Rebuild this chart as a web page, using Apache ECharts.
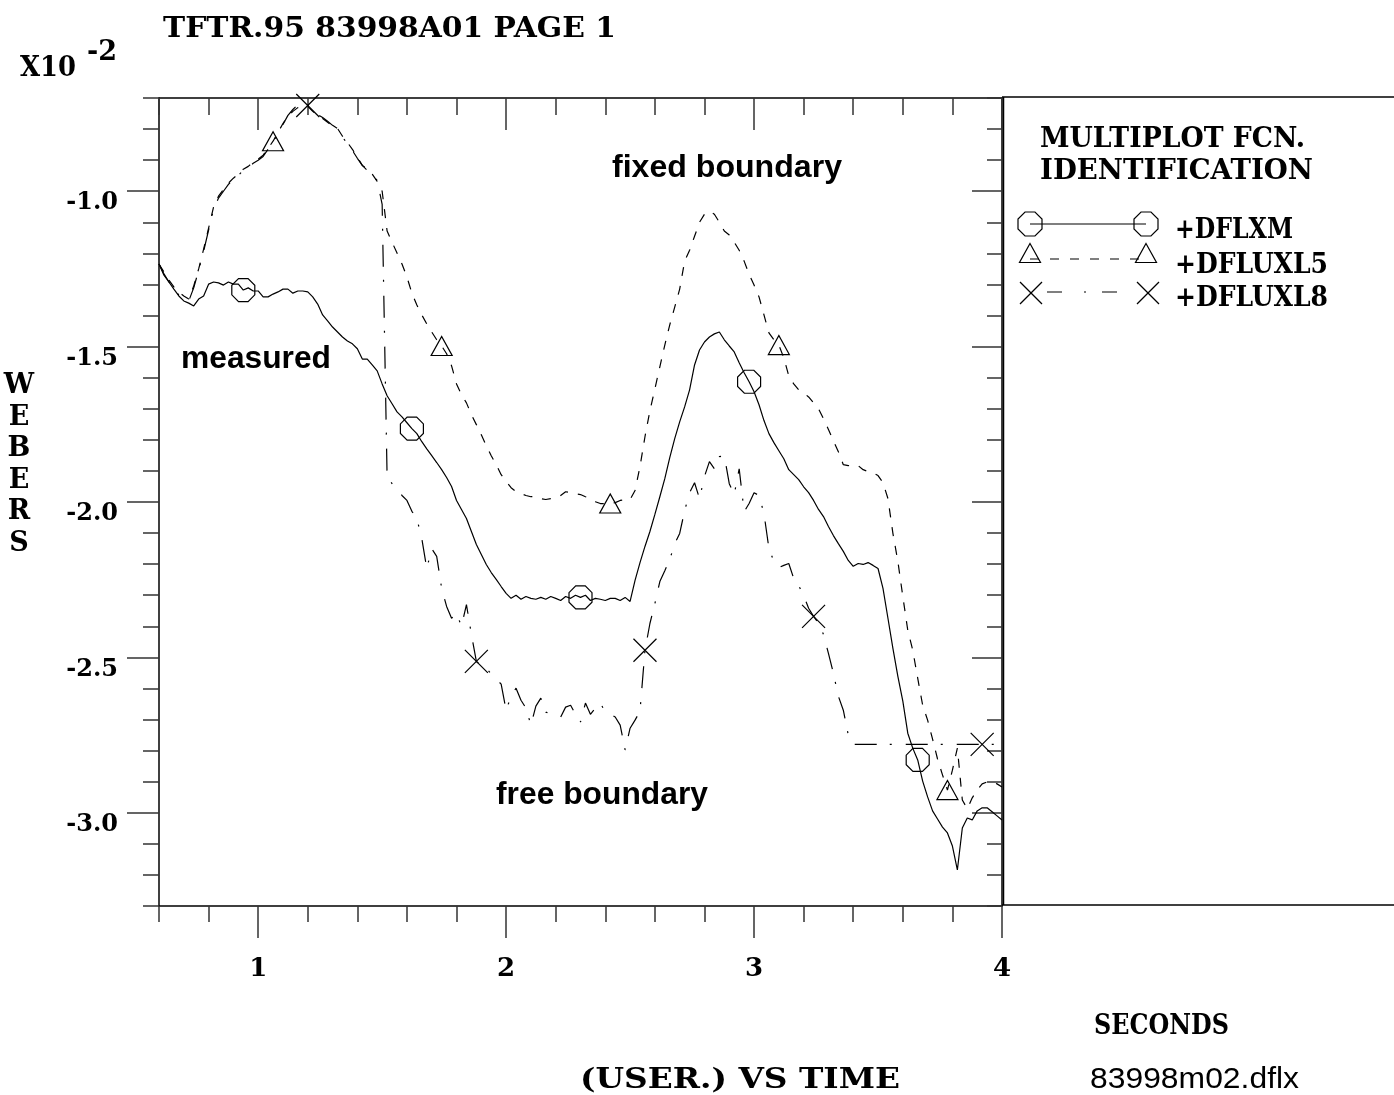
<!DOCTYPE html>
<html>
<head>
<meta charset="utf-8">
<title>83998 flux loops</title>
<script src="https://cdn.jsdelivr.net/npm/echarts@6/dist/echarts.min.js"></script>
<style>
  html, body { margin: 0; padding: 0; background: #fff; }
  #chart { width: 1394px; height: 1095px; }
</style>
</head>
<body>
<div id="chart"></div>
<script>
// Time base of the record: one sample every 20 ms from 0.6 s
const T_START = 0.6;
const T_STEP = 0.02;

// Flux signals in units of 1e-2 Wb, one value per sample
const dflxm = [
  -1.234, -1.270, -1.292, -1.315, -1.337, -1.353, -1.360, -1.369, -1.347, -1.337,
  -1.299, -1.292, -1.295, -1.302, -1.292, -1.299, -1.299, -1.318, -1.311, -1.321,
  -1.321, -1.340, -1.340, -1.331, -1.324, -1.315, -1.315, -1.328, -1.321, -1.321,
  -1.324, -1.340, -1.363, -1.398, -1.417, -1.437, -1.453, -1.469, -1.482, -1.491,
  -1.507, -1.540, -1.540, -1.559, -1.578, -1.620, -1.658, -1.684, -1.710, -1.726,
  -1.745, -1.764, -1.780, -1.806, -1.829, -1.851, -1.873, -1.896, -1.921, -1.950,
  -1.995, -2.024, -2.053, -2.095, -2.137, -2.169, -2.201, -2.227, -2.249, -2.272,
  -2.294, -2.310, -2.300, -2.313, -2.304, -2.310, -2.313, -2.307, -2.313, -2.304,
  -2.310, -2.317, -2.304, -2.310, -2.300, -2.307, -2.300, -2.317, -2.310, -2.313,
  -2.317, -2.310, -2.310, -2.317, -2.307, -2.320, -2.252, -2.195, -2.143, -2.095,
  -2.040, -1.983, -1.925, -1.857, -1.796, -1.742, -1.694, -1.639, -1.559, -1.511,
  -1.485, -1.469, -1.459, -1.453, -1.478, -1.498, -1.517, -1.552, -1.584, -1.613,
  -1.645, -1.687, -1.738, -1.780, -1.809, -1.835, -1.861, -1.896, -1.912, -1.928,
  -1.951, -1.970, -1.995, -2.024, -2.047, -2.079, -2.108, -2.134, -2.159, -2.188,
  -2.207, -2.198, -2.201, -2.195, -2.204, -2.214, -2.278, -2.374, -2.471, -2.561,
  -2.641, -2.744, -2.792, -2.830, -2.898, -2.949, -2.994, -3.020, -3.046, -3.065,
  -3.107, -3.184, -3.049, -3.017, -3.023, -2.994, -2.984, -2.984, -2.997, -3.010, -3.023
];

const dfluxl5 = [
  -1.234, -1.260, -1.286, -1.308, -1.324, -1.337, -1.347, -1.305, -1.250, -1.186,
  -1.119, -1.051, -1.016, -0.994, -0.974, -0.958, -0.945, -0.929, -0.920, -0.907,
  -0.897, -0.884, -0.862, -0.839, -0.811, -0.782, -0.759, -0.743, -0.731, -0.724,
  -0.727, -0.743, -0.756, -0.766, -0.778, -0.791, -0.798, -0.823, -0.843, -0.865,
  -0.891, -0.917, -0.929, -0.945, -0.968, -1.000, -1.128, -1.164, -1.199, -1.234,
  -1.276, -1.328, -1.366, -1.398, -1.427, -1.453, -1.478, -1.498, -1.523, -1.562,
  -1.620, -1.655, -1.681, -1.719, -1.751, -1.784, -1.819, -1.851, -1.880, -1.912,
  -1.934, -1.954, -1.967, -1.973, -1.979, -1.983, -1.983, -1.989, -1.992, -1.989,
  -1.986, -1.979, -1.967, -1.970, -1.973, -1.976, -1.983, -1.989, -1.999, -2.005,
  -2.005, -2.005, -2.002, -1.995, -1.992, -1.992, -1.963, -1.886, -1.790, -1.706,
  -1.636, -1.565, -1.495, -1.430, -1.373, -1.315, -1.225, -1.190, -1.145, -1.100,
  -1.074, -1.064, -1.074, -1.100, -1.128, -1.141, -1.164, -1.190, -1.225, -1.267,
  -1.302, -1.340, -1.398, -1.456, -1.478, -1.495, -1.536, -1.594, -1.620, -1.639,
  -1.649, -1.662, -1.681, -1.700, -1.732, -1.767, -1.803, -1.838, -1.880, -1.883,
  -1.880, -1.883, -1.896, -1.902, -1.906, -1.915, -1.938, -1.989, -2.101, -2.191,
  -2.304, -2.413, -2.477, -2.567, -2.654, -2.702, -2.763, -2.827, -2.878, -2.927,
  -2.863, -2.792, -2.959, -2.987, -2.952, -2.927, -2.907, -2.901, -2.901, -2.907, -2.917
];

const dfluxl8 = [
  -1.234, -1.266, -1.292, -1.315, -1.334, -1.344, -1.353, -1.311, -1.254, -1.193,
  -1.125, -1.058, -1.022, -1.000, -0.978, -0.961, -0.949, -0.933, -0.923, -0.910,
  -0.900, -0.888, -0.865, -0.843, -0.814, -0.785, -0.756, -0.737, -0.721, -0.717,
  -0.724, -0.737, -0.753, -0.763, -0.775, -0.788, -0.798, -0.827, -0.846, -0.869,
  -0.894, -0.917, -0.933, -0.949, -0.965, -1.042, -1.918, -1.941, -1.957, -1.979,
  -1.995, -2.030, -2.053, -2.118, -2.214, -2.150, -2.175, -2.278, -2.336, -2.374,
  -2.358, -2.400, -2.330, -2.426, -2.513, -2.525, -2.535, -2.554, -2.570, -2.586,
  -2.670, -2.625, -2.599, -2.638, -2.663, -2.718, -2.657, -2.631, -2.676, -2.683,
  -2.686, -2.692, -2.660, -2.654, -2.683, -2.708, -2.647, -2.683, -2.663, -2.647,
  -2.676, -2.683, -2.692, -2.718, -2.798, -2.728, -2.702, -2.673, -2.477, -2.391,
  -2.327, -2.256, -2.221, -2.185, -2.134, -2.101, -2.028, -1.970, -1.938, -1.989,
  -1.918, -1.870, -1.893, -1.854, -1.851, -1.941, -1.976, -1.893, -2.031, -2.005,
  -1.970, -1.979, -2.037, -2.150, -2.191, -2.211, -2.204, -2.198, -2.246, -2.269,
  -2.301, -2.342, -2.368, -2.390, -2.426, -2.487, -2.551, -2.625, -2.670, -2.750,
  -2.780, -2.780, -2.780, -2.780, -2.780, -2.780, -2.780, -2.780, -2.780, -2.780,
  -2.780, -2.780, -2.780, -2.780, -2.780, -2.780, -2.780, -2.780, -2.780, -2.780,
  -2.780, -2.780, -2.780, -2.780, -2.780, -2.780, -2.780, -2.780, -2.780, -2.780, -2.780
];

// Axis ticks
const xMajorTicks = [1, 2, 3, 4];
const xMinorTicks = [0.6, 0.8, 1.0, 1.2, 1.4, 1.6, 1.8, 2.0, 2.2, 2.4, 2.6, 2.8, 3.0, 3.2, 3.4, 3.6, 3.8, 4.0];
const yMajorTicks = [-3.0, -2.5, -2.0, -1.5, -1.0];
const yMinorTicks = [-3.3, -3.2, -3.1, -3.0, -2.9, -2.8, -2.7, -2.6, -2.5, -2.4, -2.3, -2.2, -2.1,
  -2.0, -1.9, -1.8, -1.7, -1.6, -1.5, -1.4, -1.3, -1.2, -1.1, -1.0, -0.9, -0.8, -0.7];

const seriesNames = ['+DFLXM', '+DFLUXL5', '+DFLUXL8'];

// ---------------------------------------------------------------------------
const time = dflxm.map((_, i) => +(T_START + i * T_STEP).toFixed(2));
const MARK_EVERY = 34;   // plot symbol spacing, in samples

const SERIF = '"DejaVu Serif", "Liberation Serif", serif';
const SANS = '"Liberation Sans", Arial, sans-serif';
const INK = '#000';
const TICK = '#333';

const OCTAGON = 'path://M29.3,0 L70.7,0 L100,29.3 L100,70.7 L70.7,100 L29.3,100 L0,70.7 L0,29.3 Z';
const CROSS = 'path://M0,0 L100,100 M100,0 L0,100';

const DASH_L5 = [9, 10];
const DASH_L8 = [22, 13, 2, 14];

function trace(name, values, dash, symbol, size, firstMark) {
  return {
    name, type: 'line', xAxisIndex: 0, yAxisIndex: 0,
    data: values.map((v, i) => [time[i], v]),
    lineStyle: { color: INK, width: 1.2, type: dash },
    symbol,
    symbolSize: (val, p) =>
      (p.dataIndex >= firstMark && (p.dataIndex - firstMark) % MARK_EVERY === 0) ? size : 0,
    showSymbol: true, showAllSymbol: true,
    itemStyle: { color: 'rgba(0,0,0,0)', borderColor: INK, borderWidth: 1.2 },
    emphasis: { disabled: true },
    silent: true, z: 3
  };
}

function xAxisDef(position, ticks, len, inside, showLine, label) {
  return {
    type: 'value', min: 0.6, max: 4.0, position, gridIndex: 0,
    axisLine: { show: showLine, onZero: false, lineStyle: { color: INK, width: 1.5 } },
    axisTick: { show: true, customValues: ticks, length: len, inside, lineStyle: { color: TICK, width: 1.5 } },
    axisLabel: label || { show: false },
    splitLine: { show: false }
  };
}

function yAxisDef(position, ticks, len, inside, showLine, label) {
  return {
    type: 'value', min: -3.3, max: -0.7, position, gridIndex: 0,
    axisLine: { show: showLine, onZero: false, lineStyle: { color: INK, width: 1.5 } },
    axisTick: { show: true, customValues: ticks, length: len, inside, lineStyle: { color: TICK, width: 1.5 } },
    axisLabel: label || { show: false },
    splitLine: { show: false }
  };
}

// Text fitted to a given horizontal extent
const measureCtx = document.createElement('canvas').getContext('2d');
function fitText(str, left, right, cy, font) {
  measureCtx.font = font;
  const w = measureCtx.measureText(str).width;
  return {
    type: 'text', x: left, y: cy, scaleX: (right - left) / w, silent: true,
    style: { text: str, font, fill: INK, textAlign: 'left', textVerticalAlign: 'middle' }
  };
}

// Legend key shapes
function octagonShape(cx, cy, s) {
  const h = s / 2, c = s * 0.207;
  return {
    type: 'polygon', silent: true,
    shape: { points: [[cx - c, cy - h], [cx + c, cy - h], [cx + h, cy - c], [cx + h, cy + c],
                      [cx + c, cy + h], [cx - c, cy + h], [cx - h, cy + c], [cx - h, cy - c]] },
    style: { fill: 'none', stroke: INK, lineWidth: 1.2 }
  };
}
function triangleShape(cx, cy, w, h) {
  return {
    type: 'polygon', silent: true,
    shape: { points: [[cx, cy - h / 2], [cx + w / 2, cy + h / 2], [cx - w / 2, cy + h / 2]] },
    style: { fill: 'none', stroke: INK, lineWidth: 1.2 }
  };
}
function crossShape(cx, cy, s) {
  const h = s / 2;
  return [
    { type: 'line', silent: true, shape: { x1: cx - h, y1: cy - h, x2: cx + h, y2: cy + h }, style: { stroke: INK, lineWidth: 1.2 } },
    { type: 'line', silent: true, shape: { x1: cx + h, y1: cy - h, x2: cx - h, y2: cy + h }, style: { stroke: INK, lineWidth: 1.2 } }
  ];
}
function segment(x1, y1, x2, y2, dash, width) {
  return {
    type: 'line', silent: true,
    shape: { x1, y1, x2, y2 },
    style: { stroke: INK, lineWidth: width || 1.2, lineDash: dash || null }
  };
}

const F_TITLE = 'bold 27px ' + SERIF;
const F_KEY = 'bold 28px ' + SERIF;
const F_ENTRY = 'bold 27px ' + SERIF;
const F_NOTE = 'bold 32px ' + SANS;

const graphics = [
  fitText('TFTR.95 83998A01 PAGE 1', 163, 616, 30, F_TITLE),
  fitText('X10', 20, 76, 69, 'bold 28px ' + SERIF),
  fitText('-2', 87, 117, 53, 'bold 27px ' + SERIF),
  {
    type: 'text', x: 19, y: 465, silent: true,
    style: { text: 'W\nE\nB\nE\nR\nS', font: 'bold 27px ' + SERIF, fill: INK,
             textAlign: 'center', textVerticalAlign: 'middle', lineHeight: 31.5 }
  },
  fitText('fixed boundary', 612, 842, 168, F_NOTE),
  fitText('measured', 181, 331, 359, F_NOTE),
  fitText('free boundary', 496, 708, 795, F_NOTE),
  fitText('SECONDS', 1094, 1229, 1027, 'bold 27px ' + SERIF),
  fitText('(USER.) VS TIME', 580, 900, 1081, 'bold 28px ' + SERIF),
  fitText('83998m02.dflx', 1090, 1299, 1080, '30px ' + SANS),

  // identification box
  segment(1002, 97, 1394, 97, null, 1.5),
  segment(1002, 905, 1394, 905, null, 1.5),
  segment(1003.5, 97, 1003.5, 905, null, 1.5),
  fitText('MULTIPLOT FCN.', 1040, 1305, 140, F_KEY),
  fitText('IDENTIFICATION', 1040, 1313, 172, F_KEY),

  segment(1030, 224, 1146, 224),
  octagonShape(1030, 224, 24),
  octagonShape(1146, 224, 24),
  fitText(seriesNames[0], 1175, 1293, 231, F_ENTRY),

  segment(1030, 259, 1146, 259, [9, 11]),
  triangleShape(1030, 253, 21, 19),
  triangleShape(1146, 253, 21, 19),
  fitText(seriesNames[1], 1175, 1328, 266, F_ENTRY),

  segment(1047, 292, 1137, 292, [15, 22, 2, 16]),
  ...crossShape(1031, 293, 22),
  ...crossShape(1148, 293, 22),
  fitText(seriesNames[2], 1175, 1328, 299, F_ENTRY)
];

const chart = echarts.init(document.getElementById('chart'), null, { renderer: 'canvas' });
chart.setOption({
  animation: false,
  backgroundColor: '#fff',
  grid: { left: 159, top: 98, width: 843, height: 808, outerBoundsMode: 'none', containLabel: false },
  xAxis: [
    xAxisDef('bottom', xMajorTicks, 32, false, true, {
      show: true, customValues: xMajorTicks, margin: 50, color: INK,
      fontFamily: SERIF, fontWeight: 'bold', fontSize: 26,
      formatter: v => String(Math.round(v))
    }),
    xAxisDef('bottom', xMinorTicks, 16, false, false),
    xAxisDef('top', xMajorTicks, 32, true, true),
    xAxisDef('top', xMinorTicks, 17, true, false)
  ],
  yAxis: [
    yAxisDef('left', yMajorTicks, 32, false, true, {
      show: true, customValues: yMajorTicks, margin: 41, color: INK,
      fontFamily: SERIF, fontWeight: 'bold', fontSize: 24,
      verticalAlign: 'top', lineHeight: 16, padding: [4, 0, 0, 0],
      formatter: v => v.toFixed(1)
    }),
    yAxisDef('left', yMinorTicks, 16, false, false),
    yAxisDef('right', yMajorTicks, 30, true, true),
    yAxisDef('right', yMinorTicks, 15, true, false)
  ],
  series: [
    trace(seriesNames[0], dflxm, 'solid', OCTAGON, 23, 17),
    trace(seriesNames[1], dfluxl5, DASH_L5, 'triangle', [21, 19], 23),
    trace(seriesNames[2], dfluxl8, DASH_L8, CROSS, 23, 30)
  ],
  graphic: { elements: graphics }
});
</script>
</body>
</html>
